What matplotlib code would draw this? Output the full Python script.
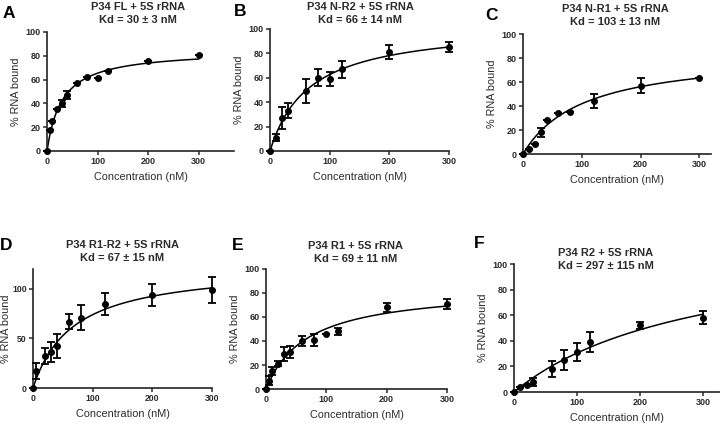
import numpy as np
import matplotlib
matplotlib.use("Agg")
import matplotlib.pyplot as plt

plt.rcParams['font.family'] = ['Liberation Sans', 'DejaVu Sans']
plt.rcParams['font.weight'] = 'bold'

TXT = '#2b2b2b'

# ---- data ----
# panel A: P34 FL
conc_a = [0, 5, 10, 20, 30, 40, 60, 80, 100, 120, 200, 300]
bound_a = [0, 18, 25, 35, 40, 47, 57, 62, 61.5, 67, 76, 81]
err_a = [0, 0, 0, 0, 3, 3, 0, 0, 0, 0, 0, 0]

# panel B: P34 N-R2
conc_b = [0, 10, 20, 30, 60, 80, 100, 120, 200, 300]
bound_b = [0, 11, 27, 33, 49, 60, 59, 67, 81, 85]
err_b = [0, 3, 9, 6, 10, 7, 6, 7, 6, 4]

# panel C: P34 N-R1
conc_c = [0, 10, 20, 30, 40, 60, 80, 120, 200, 300]
bound_c = [0, 4, 8, 18, 28, 34, 35, 44, 57, 63.5]
err_c = [0, 0, 0, 4, 0, 0, 0, 6, 6, 0]

# panel D: P34 R1-R2
conc_d = [0, 5, 20, 30, 40, 60, 80, 120, 200, 300]
bound_d = [0, 17, 32, 36, 42, 67, 71, 85, 94, 99]
err_d = [0, 8, 8, 10, 12, 8, 13, 11, 11, 13]

# panel E: P34 R1
conc_e = [0, 5, 10, 20, 30, 40, 60, 80, 100, 120, 200, 300]
bound_e = [0, 7, 15, 21, 29, 31, 40, 41, 46, 48, 68, 71]
err_e = [0, 4, 3, 2, 6, 5, 4, 5, 0, 3, 4, 4]

# panel F: P34 R2
conc_f = [0, 10, 20, 30, 60, 80, 100, 120, 200, 300]
bound_f = [0, 4, 5.5, 8, 18, 25, 31, 39, 52, 58]
err_f = [0, 0, 0, 3, 6, 8, 7, 8, 3, 5]

kd = [30, 66, 103, 67, 69, 297]
kd_err = [3, 14, 13, 15, 11, 115]
bmax = [85, 104, 85, 123.5, 85, 121]

names = ['P34 FL', 'P34 N-R2', 'P34 N-R1', 'P34 R1-R2', 'P34 R1', 'P34 R2']
letters = ['A', 'B', 'C', 'D', 'E', 'F']
concs = [conc_a, conc_b, conc_c, conc_d, conc_e, conc_f]
bounds = [bound_a, bound_b, bound_c, bound_d, bound_e, bound_f]
errs = [err_a, err_b, err_c, err_d, err_e, err_f]

W, H = 720, 423
# axes boxes in pixels: left, top, right, bottom
boxes = [(47, 32, 234, 151), (270, 29, 449, 151), (523, 34, 711, 154),
         (33, 269, 212, 388), (266, 269, 447, 389), (514, 264, 719, 392)]
xmax = [370, 300, 320, 300, 300, 325]
ymax = [100, 100, 100, 120, 100, 100]
yticks = [np.arange(0, 101, 20)] * 3 + [[0, 50, 100]] + [np.arange(0, 101, 20)] * 2
letter_pos = [(9, 14), (240, 12), (492, 16), (6, 246), (238, 246), (479, 243)]
title_y = [7, 7, 9, 245, 246, 253]
title_x = [138, 360, 615, 122, 356, 606]
ylab_pad = [3, 3, 3, 1, 3, 3]
tick_size = [6.5, 6.5, 6.5, 6.2, 6.5, 6.5]

fig = plt.figure(figsize=(W / 100, H / 100), dpi=100)

for i in range(6):
    l, t, r, b = boxes[i]
    ax = fig.add_axes([l / W, 1 - b / H, (r - l) / W, (b - t) / H])
    eb = ax.errorbar(concs[i], bounds[i], yerr=errs[i], fmt='o', color='black',
                     ms=4, elinewidth=1.3, capsize=3, capthick=1.3, zorder=3)
    eb[0].set_clip_on(False)
    for art in list(eb[1]) + list(eb[2]):
        art.set_clip_on(False)
    xs = np.linspace(0, 300, 300)
    ax.plot(xs, bmax[i] * xs / (kd[i] + xs), color='black', lw=1.1)
    ax.set_xlim(0, xmax[i])
    ax.set_ylim(0, ymax[i])
    ax.set_xticks([0, 100, 200, 300])
    ax.set_yticks(yticks[i])
    for s in ['top', 'right']:
        ax.spines[s].set_visible(False)
    for s in ['left', 'bottom']:
        ax.spines[s].set_linewidth(1.2)
        ax.spines[s].set_color('#222222')
    ax.tick_params(labelsize=tick_size[i], width=1.1, length=3, colors=TXT, pad=1.5)
    for lab in ax.get_xticklabels() + ax.get_yticklabels():
        lab.set_fontweight('bold')
    ax.set_xlabel('Concentration (nM)', fontsize=7.8, color=TXT, labelpad=4)
    ax.set_ylabel('% RNA bound', fontsize=7.8, color=TXT, labelpad=ylab_pad[i])
    cx = title_x[i]
    ty = title_y[i]
    fig.text(cx / W, 1 - ty / H, names[i] + ' + 5S rRNA', ha='center',
             va='center', fontsize=8, color=TXT, fontweight='bold')
    fig.text(cx / W, 1 - (ty + 13) / H, 'Kd = %d \u00b1 %d nM' % (kd[i], kd_err[i]),
             ha='center', va='center', fontsize=8, color=TXT, fontweight='bold')
    lx, ly = letter_pos[i]
    fig.text(lx / W, 1 - ly / H, letters[i], ha='center', va='center',
             fontsize=12.5, color='black', fontweight='bold')

fig.savefig('out.png', dpi=100)
